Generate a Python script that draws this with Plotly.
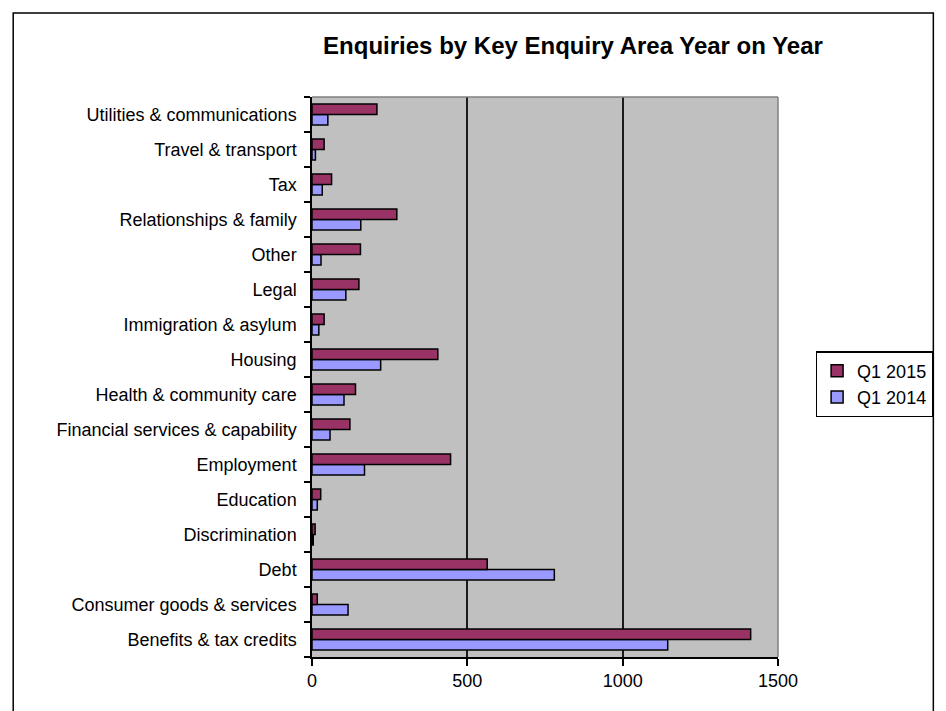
import plotly.graph_objects as go

categories = [
    "Benefits & tax credits",
    "Consumer goods & services",
    "Debt",
    "Discrimination",
    "Education",
    "Employment",
    "Financial services & capability",
    "Health & community care",
    "Housing",
    "Immigration & asylum",
    "Legal",
    "Other",
    "Relationships & family",
    "Tax",
    "Travel & transport",
    "Utilities & communications",
]
q1_2015 = [1412, 17, 564, 10, 28, 446, 122, 140, 405, 39, 151, 156, 273, 63, 39, 209]
q1_2014 = [1145, 116, 780, 4, 17, 169, 58, 103, 221, 22, 109, 29, 157, 33, 11, 51]
x_ticks = [0, 500, 1000, 1500]

FONT = "Liberation Sans, Arial, sans-serif"

fig = go.Figure()
fig.add_trace(go.Bar(
    y=categories, x=q1_2014, name="Q1 2014", orientation="h",
    marker=dict(color="#9999FF", line=dict(color="#000000", width=1.5)),
))
fig.add_trace(go.Bar(
    y=categories, x=q1_2015, name="Q1 2015", orientation="h",
    marker=dict(color="#993366", line=dict(color="#000000", width=1.5)),
))

# page body has an 8px margin, so figure coords = screen coords - 8
OFF = 8
W, H = 946 - OFF, 711 - OFF
L, R, T, B = 312 - OFF, 783 - OFF, 97 - OFF, 657 - OFF
pw, ph = R - L, B - T

def px(sx):
    return (sx - OFF - L) / pw

def py(sy):
    return (B - (sy - OFF)) / ph

fig.update_layout(
    width=W, height=H,
    margin=dict(l=L, r=W - R, t=T, b=H - B, pad=0),
    paper_bgcolor="white",
    plot_bgcolor="#C0C0C0",
    barmode="group",
    bargap=0.4,
    bargroupgap=0,
    font=dict(family=FONT, size=18, color="#000000"),
    title=dict(
        text="<b>Enquiries by Key Enquiry Area Year on Year</b>",
        x=(573 - OFF) / W, xanchor="center",
        y=1 - (46 - OFF) / H, yanchor="middle",
        font=dict(family=FONT, size=24, color="#000000"),
    ),
    legend=dict(
        traceorder="reversed",
        x=px(821), xanchor="left",
        y=py(351), yanchor="top",
        bgcolor="white", bordercolor="#000000", borderwidth=1.5,
        font=dict(family=FONT, size=18, color="#000000"),
        itemwidth=30,
        tracegroupgap=0,
    ),
    xaxis=dict(
        range=[0, 1500], tickvals=x_ticks, ticktext=[str(v) for v in x_ticks],
        showgrid=True, gridcolor="#1a1a1a", gridwidth=2,
        showline=True, linecolor="#000000", linewidth=1.5,
        ticks="outside", ticklen=7, tickcolor="#000000", tickwidth=1.5,
        zeroline=False,
        tickfont=dict(family=FONT, size=18, color="#000000"),
    ),
    yaxis=dict(
        type="category", categoryorder="array", categoryarray=categories,
        showgrid=False,
        showline=True, linecolor="#000000", linewidth=1.5,
        ticks="outside", ticklen=6, tickcolor="#000000", tickwidth=1.5,
        tickson="boundaries",
        ticklabelstandoff=10,
        tickfont=dict(family=FONT, size=18, color="#000000"),
    ),
    shapes=[
        dict(type="rect", xref="paper", yref="paper",
             x0=px(10), x1=px(940),
             y0=py(760), y1=py(13),
             line=dict(color="#000000", width=1.5), fillcolor="rgba(0,0,0,0)",
             layer="below"),
        dict(type="line", xref="paper", yref="paper",
             x0=0, x1=1, y0=1, y1=1, line=dict(color="#808080", width=1.5)),
        dict(type="line", xref="paper", yref="paper",
             x0=1, x1=1, y0=0, y1=1, line=dict(color="#808080", width=1.5)),
    ],
)

fig.write_html("out.html")
